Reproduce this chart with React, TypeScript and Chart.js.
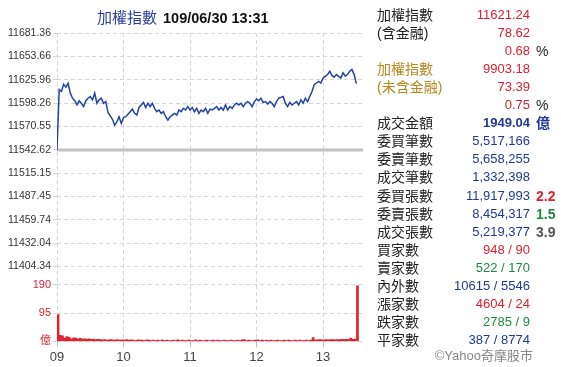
import React, { useEffect, useRef } from "react";
import { Chart, registerables } from "chart.js";

Chart.register(...registerables);

const FONT = '"Liberation Sans", "Noto Sans CJK TC", "Noto Sans", sans-serif';
const RED = "#e0202c";
const BLUE = "#1f3a93";
const GREEN = "#1e8a3e";
const GOLD = "#b8861c";
const DARK = "#222222";
const GRAY = "#555555";

const PREV_CLOSE = 11542.62;
const PRICE_MIN = 11404.34;
const PRICE_MAX = 11681.36;
const priceTicks = [11404.34, 11432.04, 11459.74, 11487.45, 11515.15, 11542.62, 11570.55, 11598.26, 11625.96, 11653.66, 11681.36];
const volumeTicks = [0, 95, 190];
const hourMinutes = [0, 60, 120, 180, 240];
const hourLabels = ["09", "10", "11", "12", "13"];
const STEP_MIN = 2;

// index level every 2 minutes from 09:00 to 13:30
const prices = [
  11542.62, 11614.3, 11612, 11620.4, 11617, 11621.6, 11610, 11604, 11601, 11596,
  11601, 11598, 11594, 11601, 11604, 11606, 11602, 11610, 11598, 11602,
  11604, 11598, 11600, 11587, 11583, 11579, 11572, 11576, 11582, 11574,
  11581, 11582, 11585, 11588, 11591, 11586, 11584, 11593, 11596, 11599,
  11593, 11598, 11594, 11598, 11592, 11588, 11590, 11586, 11588, 11582,
  11578, 11582, 11584, 11586, 11584, 11590, 11588, 11592, 11590, 11594,
  11590, 11593, 11588, 11592, 11586, 11590, 11588, 11592, 11586, 11591,
  11590, 11592, 11594, 11590, 11593, 11590, 11596, 11590, 11594, 11592,
  11596, 11598, 11596, 11598, 11594, 11598, 11600, 11598, 11594, 11600,
  11603, 11601, 11604, 11599, 11600, 11597, 11600, 11598, 11594, 11600,
  11604, 11605, 11606, 11598, 11594, 11599, 11596, 11598, 11600, 11596,
  11602, 11598, 11604, 11600, 11606, 11612, 11620, 11622, 11624, 11622,
  11628, 11630, 11632, 11636, 11631, 11629, 11632, 11630, 11628, 11634,
  11630, 11632, 11636, 11638, 11632, 11621.24,
];

// traded value (億) per 2-minute bucket
const volumes = [
  90, 20, 19, 11, 16, 14, 9, 12, 11, 9,
  10, 8, 9, 8, 9, 7, 8, 6, 7, 6,
  5, 6, 4, 5, 6, 4, 5, 5, 4, 5,
  4, 6, 4, 5, 4, 3, 5, 4, 4, 3,
  5, 4, 3, 4, 3, 4, 3, 5, 3, 4,
  3, 3, 4, 3, 5, 3, 4, 3, 3, 4,
  3, 3, 5, 3, 4, 3, 3, 4, 3, 3,
  4, 3, 4, 3, 3, 4, 3, 3, 4, 3,
  3, 4, 3, 5, 6, 3, 4, 3, 3, 4,
  5, 3, 4, 3, 4, 3, 4, 3, 3, 4,
  3, 3, 4, 3, 4, 3, 3, 4, 3, 4,
  3, 3, 4, 3, 4, 13, 5, 5, 6, 5,
  5, 6, 5, 6, 6, 5, 6, 6, 7, 6,
  7, 7, 11, 7, 8, 186,
];

type Row = { label: string; lc?: string; value: string; vc: string; bold?: boolean; suffix?: string; sc?: string; sb?: boolean };
const statRows: Row[] = [
  { label: "加權指數", value: "11621.24", vc: RED },
  { label: "(含金融)", value: "78.62", vc: RED },
  { label: "", value: "0.68", vc: RED, suffix: "%", sc: DARK },
  { label: "加權指數", lc: GOLD, value: "9903.18", vc: RED },
  { label: "(未含金融)", lc: GOLD, value: "73.39", vc: RED },
  { label: "", value: "0.75", vc: RED, suffix: "%", sc: DARK },
  { label: "成交金額", value: "1949.04", vc: BLUE, bold: true, suffix: "億", sc: BLUE, sb: true },
  { label: "委買筆數", value: "5,517,166", vc: BLUE },
  { label: "委賣筆數", value: "5,658,255", vc: BLUE },
  { label: "成交筆數", value: "1,332,398", vc: BLUE },
  { label: "委買張數", value: "11,917,993", vc: BLUE, suffix: "2.2", sc: RED, sb: true },
  { label: "委賣張數", value: "8,454,317", vc: BLUE, suffix: "1.5", sc: GREEN, sb: true },
  { label: "成交張數", value: "5,219,377", vc: BLUE, suffix: "3.9", sc: GRAY, sb: true },
  { label: "買家數", value: "948 / 90", vc: RED },
  { label: "賣家數", value: "522 / 170", vc: GREEN },
  { label: "內外數", value: "10615 / 5546", vc: BLUE },
  { label: "漲家數", value: "4604 / 24", vc: RED },
  { label: "跌家數", value: "2785 / 9", vc: GREEN },
  { label: "平家數", value: "387 / 8774", vc: BLUE },
];

const prevClosePlugin = {
  id: "prevClose",
  beforeDatasetsDraw(chart: any) {
    const { ctx, chartArea, scales } = chart;
    const y = scales.y.getPixelForValue(PREV_CLOSE);
    ctx.save();
    ctx.strokeStyle = "#c2c2c2";
    ctx.lineWidth = 3;
    ctx.beginPath();
    ctx.moveTo(chartArea.left, y);
    ctx.lineTo(chartArea.right, y);
    ctx.stroke();
    ctx.restore();
  },
};

const GRID = "#d6d6d6";

export default function App() {
  const ref = useRef<HTMLCanvasElement | null>(null);
  useEffect(() => {
    if (!ref.current) return;
    const chart = new Chart(ref.current, {
      type: "line",
      data: {
        datasets: [
          {
            type: "line",
            data: prices.map((v, i) => ({ x: i * STEP_MIN, y: v })),
            borderColor: "#2342a6",
            borderWidth: 1.5,
            pointRadius: 0,
            tension: 0,
            yAxisID: "y",
            order: 0,
          } as any,
          {
            type: "bar",
            data: volumes.map((v, i) => ({ x: i * STEP_MIN + 1, y: v })),
            backgroundColor: RED,
            barThickness: 2,
            yAxisID: "yv",
            order: 1,
          } as any,
        ],
      },
      options: {
        animation: false,
        responsive: false,
        maintainAspectRatio: false,
        layout: { padding: { top: 33, right: 3, left: 0, bottom: 0 } },
        plugins: { legend: { display: false }, tooltip: { enabled: false } },
        scales: {
          x: {
            type: "linear",
            min: 0,
            max: 276,
            offset: false,
            afterBuildTicks: (s: any) => {
              s.ticks = hourMinutes.map((v) => ({ value: v }));
            },
            ticks: {
              autoSkip: false,
              maxRotation: 0,
              callback: (_v: any, i: number) => hourLabels[i],
              font: { size: 13, family: FONT },
              color: "#444",
              padding: 2,
            },
            grid: { offset: false, color: GRID, tickLength: 6, tickColor: "#bdbdbd", tickBorderDash: [] },
            border: { display: false, dash: [4, 3] },
          },
          y: {
            position: "left",
            stack: "v",
            stackWeight: 231.5,
            weight: 1,
            min: PRICE_MIN,
            max: PRICE_MAX,
            afterBuildTicks: (s: any) => {
              s.ticks = priceTicks.map((v) => ({ value: v }));
            },
            afterFit: (s: any) => {
              s.width = 57;
            },
            ticks: {
              autoSkip: false,
              callback: (v: any) => Number(v).toFixed(2),
              font: { size: 10.5, family: FONT },
              color: "#333",
              padding: 2,
            },
            grid: { color: GRID, tickLength: 4 },
            border: { display: false, dash: [4, 3] },
          },
          yv: {
            position: "left",
            stack: "v",
            stackWeight: 74.3,
            weight: 0,
            min: 0,
            max: 250.7,
            afterBuildTicks: (s: any) => {
              s.ticks = volumeTicks.map((v) => ({ value: v }));
            },
            afterFit: (s: any) => {
              s.width = 57;
            },
            ticks: {
              autoSkip: false,
              callback: (v: any) => (Number(v) === 0 ? "億" : String(v)),
              font: { size: 11, family: FONT },
              color: RED,
              padding: 2,
            },
            grid: { color: GRID, tickLength: 4 },
            border: { display: false, dash: [4, 3] },
          },
        } as any,
      },
      plugins: [prevClosePlugin],
    });
    return () => chart.destroy();
  }, []);

  const rowH = 18.05;
  return (
    <div style={{ position: "fixed", left: 0, top: 0, width: 561, height: 367, background: "#fff", fontFamily: FONT, overflow: "hidden" }}>
      <canvas ref={ref} width={366} height={367} style={{ position: "absolute", left: 0, top: 0, width: 366, height: 367 }} />
      <div style={{ position: "absolute", left: 97, top: 8, height: 20, lineHeight: "20px", whiteSpace: "nowrap" }}>
        <span style={{ color: "#2b3c9e", fontSize: 15 }}>加權指數</span>
        <span style={{ color: "#111", fontSize: 14.5, fontWeight: "bold", marginLeft: 6 }}>109/06/30 13:31</span>
      </div>
      {statRows.map((r, i) => (
        <div key={i} style={{ position: "absolute", left: 0, top: 6 + i * rowH, height: rowH, lineHeight: rowH + "px", width: 561, whiteSpace: "nowrap" }}>
          <span style={{ position: "absolute", left: 377, color: r.lc || DARK, fontSize: 14 }}>{r.label}</span>
          <span style={{ position: "absolute", right: 561 - 530, color: r.vc, fontSize: 13, fontWeight: r.bold ? "bold" : "normal" }}>{r.value}</span>
          {r.suffix ? (
            <span style={{ position: "absolute", left: 536, color: r.sc, fontSize: 14, fontWeight: r.sb ? "bold" : "normal" }}>{r.suffix}</span>
          ) : null}
        </div>
      ))}
      <div style={{ position: "absolute", right: 561 - 533, top: 347, lineHeight: "18px", fontSize: 13, color: "#888" }}>©Yahoo奇摩股市</div>
    </div>
  );
}
